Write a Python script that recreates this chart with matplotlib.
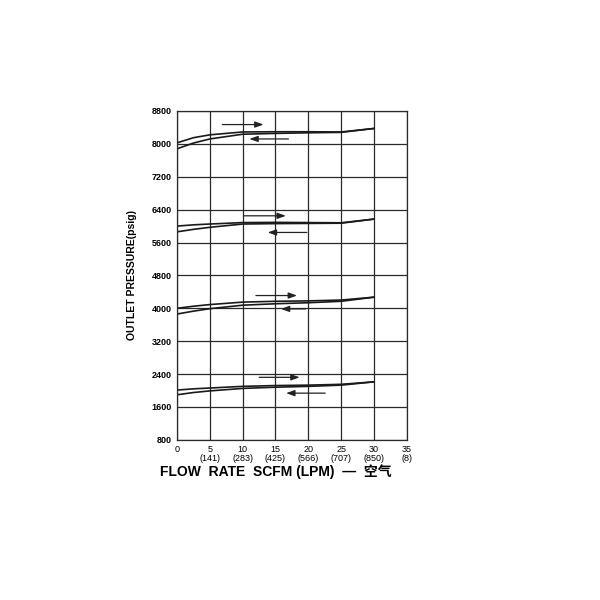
import matplotlib
matplotlib.use('Agg')
import matplotlib.pyplot as plt

plt.rcParams['font.family'] = ['Liberation Sans', 'Noto Sans CJK SC', 'DejaVu Sans']

# flow rate SCFM sample points
flow = [0, 2.5, 5, 10, 15, 20, 25, 30]

# outlet pressure curves (psig), increasing / decreasing flow per set point
up_8000 = [8025, 8150, 8220, 8290, 8295, 8295, 8290, 8375]
dn_8000 = [7880, 8020, 8120, 8235, 8255, 8270, 8280, 8375]
up_6000 = [6000, 6030, 6050, 6085, 6090, 6085, 6080, 6170]
dn_6000 = [5860, 5920, 5970, 6050, 6060, 6065, 6070, 6170]
up_4000 = [4000, 4050, 4090, 4150, 4170, 4180, 4200, 4270]
dn_4000 = [3860, 3930, 3990, 4075, 4110, 4135, 4170, 4270]
up_2000 = [2010, 2040, 2060, 2100, 2120, 2130, 2150, 2210]
dn_2000 = [1895, 1950, 1990, 2050, 2080, 2100, 2130, 2210]

# arrows: (x_start, x_end, y)
arrows = [
    (6.5, 13.6, 8470), (17.4, 10.6, 8120),
    (9.8, 17.0, 6250), (20.2, 13.4, 5845),
    (11.6, 18.7, 4310), (20.0, 15.4, 3985),
    (12.1, 19.1, 2320), (23.0, 16.2, 1935),
]

x_ticks = [0, 5, 10, 15, 20, 25, 30, 35]
x_labels = ['0', '5\n(141)', '10\n(283)', '15\n(425)', '20\n(566)',
            '25\n(707)', '30\n(850)', '35\n(8)']
y_ticks = list(range(800, 8801, 800))

fig = plt.figure(figsize=(6, 6), dpi=100)
ax = fig.add_axes([0.295, 0.267, 0.383, 0.548])

for up, dn in [(up_8000, dn_8000), (up_6000, dn_6000),
               (up_4000, dn_4000), (up_2000, dn_2000)]:
    ax.plot(flow, up, color='#1a1a1a', lw=1.2)
    ax.plot(flow, dn, color='#1a1a1a', lw=1.2)

for x0, x1, y in arrows:
    ax.annotate('', xy=(x1, y), xytext=(x0, y),
                arrowprops=dict(arrowstyle='-|>,head_length=0.5,head_width=0.18',
                                color='#222222', lw=0.9))

ax.set_xlim(0, 35)
ax.set_ylim(800, 8800)
ax.set_xticks(x_ticks)
ax.set_xticklabels(x_labels, fontsize=6.5, linespacing=0.9)
ax.set_yticks(y_ticks)
ax.set_yticklabels([str(v) for v in y_ticks], fontsize=6.5, fontweight='bold')
ax.tick_params(length=0, pad=4)
ax.grid(True, color='#2a2a2a', lw=0.9)
for s in ax.spines.values():
    s.set_color('#2a2a2a')
    s.set_linewidth(0.9)

ax.set_xlabel('FLOW  RATE  SCFM (LPM)  —  空气', fontsize=10, fontweight='bold')
ax.xaxis.set_label_coords(0.43, -0.075)
ax.set_ylabel('OUTLET PRESSURE(psig)', fontsize=7.5, fontweight='bold', labelpad=10)

fig.savefig('out.png', dpi=100, facecolor='white')
